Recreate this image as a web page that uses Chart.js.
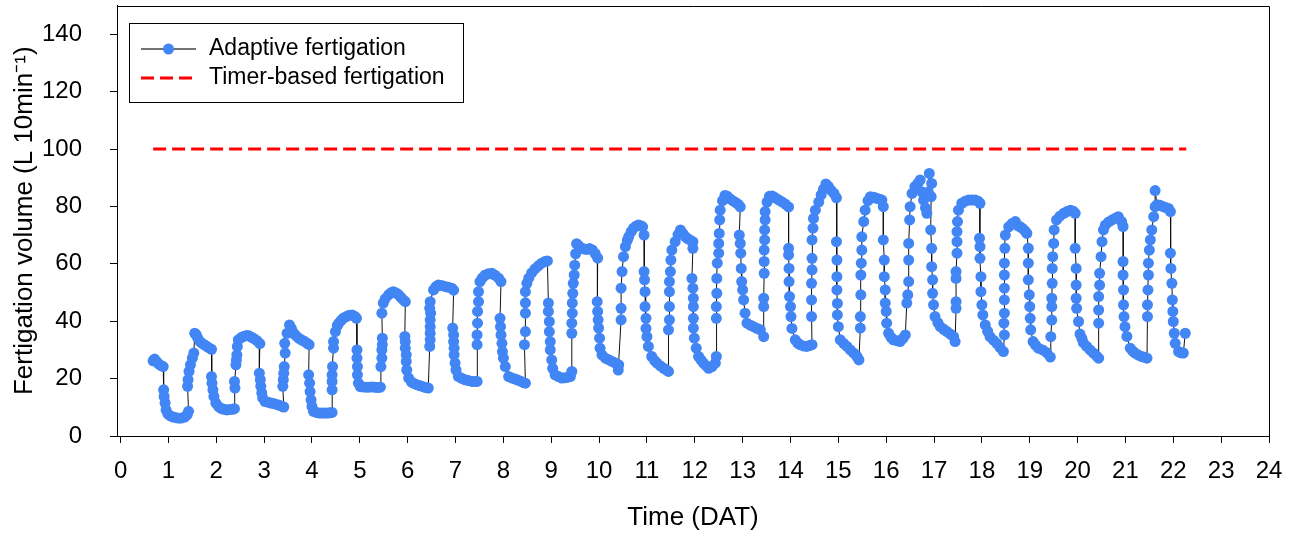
<!DOCTYPE HTML>
<html>

<head>
  <meta charset="utf-8">
  <title>Fertigation volume</title>
  <script src="https://cdn.jsdelivr.net/npm/chart.js"></script>
  <style>
    html, body { margin: 0; padding: 0; background: #fff; }
    .chart-container { position: relative; width: 1298px; height: 533px; }
  </style>
</head>

<body>
  <div class="chart-container">
    <canvas id="fertChart"></canvas>
  </div>

  <script type="text/javascript">
    // time in days after transplanting, one line per day cycle (up - plateau - down - night)
    var timeDAT = [
      0.68, 0.71, 0.75, 0.79, 0.84, 0.89, 0.90, 0.91, 0.93, 0.95, 0.99, 1.04, 1.10, 1.16, 1.22, 1.28, 1.34, 1.39, 1.42,
      1.40, 1.41, 1.43, 1.46, 1.50, 1.53, 1.55, 1.58, 1.61, 1.66, 1.71, 1.77, 1.83, 1.90, 1.90, 1.91, 1.93, 1.95, 1.99, 2.05, 2.10, 2.16, 2.22, 2.28, 2.34, 2.38,
      2.39, 2.38, 2.41, 2.42, 2.43, 2.44, 2.46, 2.52, 2.57, 2.63, 2.68, 2.74, 2.79, 2.85, 2.91, 2.90, 2.92, 2.93, 2.95, 2.97, 3.02, 3.08, 3.14, 3.20, 3.26, 3.32, 3.38, 3.41,
      3.39, 3.40, 3.41, 3.42, 3.44, 3.43, 3.48, 3.53, 3.57, 3.62, 3.67, 3.72, 3.78, 3.84, 3.90, 3.94, 3.93, 3.95, 3.96, 3.98, 4.00, 4.03, 4.09, 4.15, 4.21, 4.27, 4.33, 4.38, 4.42,
      4.42, 4.42, 4.42, 4.43, 4.45, 4.45, 4.49, 4.53, 4.56, 4.61, 4.66, 4.72, 4.78, 4.84, 4.90, 4.93, 4.94, 4.94, 4.95, 4.95, 4.97, 5.01, 5.07, 5.13, 5.19, 5.25, 5.31, 5.37, 5.43,
      5.44, 5.46, 5.46, 5.47, 5.47, 5.46, 5.49, 5.53, 5.60, 5.65, 5.70, 5.76, 5.81, 5.86, 5.91, 5.95, 5.94, 5.95, 5.95, 5.97, 5.97, 5.98, 6.02, 6.08, 6.12, 6.19, 6.26, 6.32, 6.38, 6.43,
      6.46, 6.47, 6.47, 6.47, 6.47, 6.48, 6.46, 6.47, 6.54, 6.59, 6.64, 6.71, 6.78, 6.85, 6.92, 6.96, 6.94, 6.96, 6.96, 6.97, 6.97, 6.99, 7.01, 7.06, 7.13, 7.20, 7.27, 7.34, 7.40, 7.45,
      7.45, 7.45, 7.46, 7.46, 7.48, 7.48, 7.51, 7.56, 7.62, 7.69, 7.76, 7.83, 7.90, 7.95, 7.93, 7.94, 7.95, 7.97, 7.98, 8.00, 8.04, 8.11, 8.18, 8.24, 8.30, 8.36, 8.42, 8.46,
      8.44, 8.46, 8.46, 8.46, 8.46, 8.49, 8.53, 8.59, 8.66, 8.73, 8.80, 8.87, 8.92, 8.94, 8.94, 8.96, 8.96, 8.98, 8.98, 9.01, 9.03, 9.08, 9.15, 9.22, 9.29, 9.35, 9.40, 9.43,
      9.43, 9.43, 9.44, 9.44, 9.45, 9.46, 9.48, 9.49, 9.51, 9.53, 9.57, 9.62, 9.68, 9.74, 9.80, 9.86, 9.92, 9.97, 9.96, 9.97, 9.98, 9.99, 10.01, 10.02, 10.06, 10.13, 10.20, 10.27, 10.34, 10.41, 10.40,
      10.46, 10.46, 10.46, 10.48, 10.51, 10.55, 10.59, 10.62, 10.67, 10.72, 10.77, 10.82, 10.87, 10.91, 10.94, 10.94, 10.95, 10.96, 10.96, 10.98, 10.98, 11.00, 11.03, 11.10, 11.16, 11.21, 11.28, 11.35, 11.41, 11.45,
      11.45, 11.47, 11.47, 11.47, 11.47, 11.49, 11.50, 11.52, 11.59, 11.65, 11.70, 11.75, 11.80, 11.85, 11.90, 11.96, 11.96, 11.94, 11.96, 11.97, 11.97, 11.97, 11.97, 11.99, 12.03, 12.08, 12.13, 12.18, 12.24, 12.29, 12.36, 12.43, 12.45,
      12.45, 12.45, 12.46, 12.46, 12.47, 12.50, 12.50, 12.51, 12.52, 12.53, 12.58, 12.63, 12.68, 12.74, 12.80, 12.86, 12.91, 12.95, 12.93, 12.95, 12.96, 12.97, 12.98, 13.00, 13.02, 13.05, 13.09, 13.16, 13.23, 13.30, 13.37, 13.44,
      13.44, 13.44, 13.45, 13.45, 13.45, 13.46, 13.46, 13.47, 13.47, 13.51, 13.56, 13.62, 13.68, 13.75, 13.82, 13.89, 13.96, 13.96, 13.96, 13.97, 13.97, 13.98, 14.00, 14.01, 14.03, 14.10, 14.15, 14.20, 14.27, 14.34, 14.40, 14.45,
      14.44, 14.44, 14.44, 14.45, 14.45, 14.45, 14.47, 14.48, 14.52, 14.59, 14.64, 14.69, 14.74, 14.79, 14.85, 14.91, 14.96, 14.96, 14.97, 14.97, 14.97, 14.98, 14.98, 15.00, 15.04, 15.11, 15.18, 15.25, 15.32, 15.39, 15.43,
      15.46, 15.46, 15.47, 15.47, 15.48, 15.49, 15.49, 15.53, 15.56, 15.62, 15.67, 15.74, 15.80, 15.86, 15.91, 15.94, 15.94, 15.96, 15.96, 15.98, 15.98, 16.00, 16.01, 16.05, 16.10, 16.15, 16.22, 16.29, 16.35, 16.40,
      16.43, 16.45, 16.47, 16.47, 16.47, 16.49, 16.50, 16.54, 16.60, 16.66, 16.71, 16.75, 16.78, 16.82, 16.85, 16.88, 16.90, 16.95, 16.94, 16.93, 16.95, 16.95, 16.97, 16.97, 16.99, 17.02, 17.08, 17.13, 17.20, 17.27, 17.34, 17.41, 17.44,
      17.46, 17.46, 17.46, 17.46, 17.48, 17.48, 17.48, 17.49, 17.51, 17.58, 17.65, 17.72, 17.79, 17.86, 17.92, 17.96, 17.95, 17.96, 17.96, 17.98, 17.98, 18.00, 18.02, 18.07, 18.12, 18.17, 18.24, 18.31, 18.38, 18.45,
      18.47, 18.46, 18.47, 18.47, 18.47, 18.47, 18.47, 18.48, 18.49, 18.56, 18.63, 18.70, 18.73, 18.79, 18.84, 18.90, 18.94, 18.97, 18.97, 18.97, 18.99, 19.00, 19.01, 19.02, 19.07, 19.12, 19.18, 19.27, 19.36, 19.43,
      19.44, 19.46, 19.46, 19.46, 19.47, 19.47, 19.48, 19.50, 19.51, 19.56, 19.63, 19.71, 19.78, 19.85, 19.91, 19.95, 19.95, 19.97, 19.97, 19.97, 19.98, 20.02, 20.05, 20.09, 20.12, 20.19, 20.26, 20.33, 20.40, 20.44,
      20.44, 20.44, 20.44, 20.46, 20.46, 20.49, 20.51, 20.54, 20.58, 20.65, 20.72, 20.79, 20.85, 20.92, 20.95, 20.95, 20.95, 20.96, 20.96, 20.97, 20.99, 21.03, 21.10, 21.15, 21.20, 21.27, 21.34, 21.40, 21.45,
      21.46, 21.46, 21.47, 21.48, 21.48, 21.50, 21.52, 21.55, 21.59, 21.62, 21.62, 21.66, 21.72, 21.78, 21.84, 21.90, 21.94, 21.94, 21.95, 21.97, 21.98, 21.99, 22.00, 22.02, 22.04, 22.11, 22.16, 22.21, 22.25
    ];

    // adaptive fertigation volume, L 10min-1 (same order as timeDAT)
    var adaptiveVolume = [
      26.2, 26.8, 26.0, 25.2, 24.6, 24.2, 16.1, 13.8, 11.5, 9.1, 7.6, 7.0, 6.6, 6.4, 6.2, 6.3, 6.6, 7.4, 8.6,
      17.3, 19.6, 22.5, 24.8, 27.1, 28.9, 35.8, 35.3, 34.2, 32.9, 32.2, 31.6, 30.9, 30.2, 20.7, 18.4, 16.1, 13.8, 11.5, 10.2, 9.6, 9.3, 9.1, 9.2, 9.3, 9.5,
      16.7, 19.0, 24.8, 26.5, 28.3, 31.2, 33.5, 34.3, 34.7, 35.0, 34.9, 34.4, 33.9, 33.2, 32.2, 21.9, 19.6, 17.3, 15.0, 13.2, 12.0, 11.8, 11.5, 11.3, 11.0, 10.7, 10.3, 10.1,
      17.3, 19.6, 21.9, 24.2, 28.9, 32.3, 35.8, 38.7, 37.5, 35.8, 34.9, 34.1, 33.5, 33.0, 32.3, 31.8, 21.3, 18.4, 15.5, 12.6, 10.3, 8.6, 8.2, 8.0, 8.0, 8.0, 8.0, 8.1, 8.2,
      16.1, 19.0, 21.3, 24.2, 30.6, 32.9, 36.4, 38.5, 39.3, 40.3, 41.1, 41.6, 42.1, 42.2, 41.6, 41.0, 30.0, 27.1, 24.2, 21.3, 18.4, 17.2, 17.1, 17.0, 17.0, 17.1, 17.0, 16.9, 17.0,
      24.2, 27.1, 30.0, 31.8, 34.1, 42.8, 46.3, 47.8, 49.2, 49.9, 50.3, 49.8, 49.2, 48.3, 47.4, 46.8, 34.7, 32.9, 30.6, 28.3, 26.0, 23.0, 20.2, 18.8, 18.4, 17.9, 17.5, 17.2, 16.9, 16.7,
      31.2, 33.5, 35.8, 38.1, 40.5, 42.8, 44.5, 46.8, 50.9, 52.0, 52.6, 52.4, 52.1, 51.8, 51.5, 50.8, 37.6, 35.2, 32.9, 30.6, 28.3, 25.4, 23.0, 20.7, 20.1, 19.6, 19.3, 19.0, 19.0, 19.0,
      31.8, 35.2, 39.3, 43.4, 46.8, 50.3, 53.8, 55.1, 56.1, 56.5, 56.7, 56.0, 55.0, 53.8, 41.0, 38.1, 35.2, 32.3, 29.4, 27.1, 24.2, 20.7, 20.2, 19.9, 19.5, 19.1, 18.6, 18.4,
      31.8, 36.4, 42.8, 46.4, 50.3, 53.2, 55.0, 56.8, 58.2, 59.3, 60.2, 60.8, 61.0, 46.3, 43.4, 39.9, 36.4, 32.9, 30.0, 26.5, 23.6, 21.3, 20.7, 20.2, 20.3, 20.5, 20.7, 22.5,
      35.8, 39.3, 42.8, 46.3, 49.7, 53.2, 56.1, 59.5, 63.5, 67.0, 66.3, 65.6, 65.2, 65.0, 65.3, 64.8, 63.5, 62.0, 46.8, 43.4, 40.5, 37.6, 34.1, 30.6, 28.3, 27.1, 26.6, 26.0, 25.4, 24.8, 23.0,
      40.5, 44.5, 51.5, 57.3, 62.5, 66.0, 68.2, 69.5, 71.2, 72.4, 73.1, 73.5, 73.3, 72.9, 70.0, 57.3, 54.4, 50.3, 45.1, 41.0, 37.5, 34.6, 31.2, 27.7, 26.3, 25.4, 24.4, 23.6, 23.0, 22.5,
      37.0, 40.5, 45.1, 50.3, 53.8, 57.3, 61.3, 64.8, 67.7, 70.2, 71.8, 70.6, 69.5, 68.8, 68.3, 67.7, 65.4, 54.9, 51.5, 48.0, 45.1, 41.0, 37.6, 34.1, 30.6, 27.7, 26.5, 25.4, 24.4, 23.6, 24.2, 25.4, 27.7,
      41.0, 45.1, 49.7, 54.9, 60.2, 63.7, 67.1, 70.6, 75.3, 78.7, 82.0, 83.8, 83.5, 82.6, 81.9, 81.3, 80.7, 79.8, 70.0, 67.1, 63.7, 58.4, 53.8, 50.9, 47.4, 42.8, 39.3, 38.6, 38.1, 37.5, 37.0, 34.6,
      45.1, 48.0, 56.7, 60.8, 64.8, 68.3, 71.8, 75.3, 78.2, 81.5, 83.5, 83.6, 83.0, 82.3, 81.6, 80.8, 79.8, 65.4, 63.1, 58.4, 53.8, 48.6, 45.1, 41.6, 37.5, 33.5, 32.4, 31.8, 31.4, 31.2, 31.5, 31.8,
      41.6, 47.4, 53.2, 57.9, 61.9, 68.3, 72.4, 75.8, 78.7, 81.5, 84.0, 86.0, 87.8, 87.0, 85.6, 84.5, 83.0, 67.7, 61.3, 55.5, 50.9, 46.2, 42.2, 38.1, 33.5, 32.3, 31.2, 30.0, 28.9, 27.7, 26.5,
      37.6, 41.6, 49.2, 56.1, 60.2, 64.8, 69.4, 74.7, 78.7, 82.0, 83.4, 83.2, 82.8, 82.5, 82.2, 79.9, 68.3, 61.3, 55.5, 50.9, 46.3, 43.4, 39.3, 35.8, 34.4, 33.5, 33.2, 32.9, 34.0, 35.2,
      46.3, 49.2, 53.8, 61.3, 67.1, 75.3, 79.9, 84.5, 86.9, 88.0, 89.2, 85.0, 82.2, 79.5, 77.6, 85.0, 91.5, 88.0, 83.4, 71.8, 65.4, 59.0, 54.4, 49.7, 45.7, 41.6, 39.5, 38.1, 37.2, 36.4, 35.5, 34.6, 32.9,
      44.5, 46.8, 54.9, 57.3, 63.7, 67.7, 71.2, 74.7, 78.7, 81.1, 81.8, 82.2, 82.2, 82.2, 81.8, 81.1, 68.9, 66.0, 61.9, 55.5, 50.3, 45.7, 42.2, 38.7, 36.5, 34.6, 33.4, 32.3, 30.8, 29.4,
      35.2, 39.3, 42.8, 47.4, 51.5, 56.1, 60.2, 65.4, 70.0, 72.9, 74.0, 74.7, 73.5, 73.0, 72.4, 71.5, 70.6, 65.4, 60.2, 54.4, 49.2, 45.1, 41.0, 37.0, 32.9, 31.7, 30.6, 30.0, 29.0, 27.5,
      34.6, 40.4, 45.1, 48.0, 53.2, 58.4, 62.5, 67.1, 71.8, 75.3, 76.6, 77.6, 78.2, 78.7, 78.3, 77.6, 65.4, 58.4, 52.6, 48.0, 44.5, 39.9, 35.5, 34.0, 32.5, 31.2, 30.0, 28.9, 27.8, 27.1,
      39.3, 43.9, 48.6, 52.6, 56.7, 62.5, 67.7, 71.8, 73.5, 74.6, 75.3, 75.9, 76.4, 74.7, 73.0, 60.8, 56.1, 50.9, 45.7, 41.6, 38.1, 34.7, 30.6, 29.6, 28.9, 28.2, 27.7, 27.4, 27.1,
      41.6, 45.7, 50.9, 56.1, 60.2, 64.8, 68.3, 71.8, 76.4, 79.9, 85.5, 80.6, 80.4, 80.0, 79.6, 79.3, 78.2, 63.7, 58.4, 53.2, 47.4, 43.4, 39.9, 35.8, 32.3, 29.4, 29.0, 28.9, 35.8
    ];

    // timer-based fertigation: constant volume over the run
    var timerVolume = 100;
    var timerStart = 0.68;
    var timerEnd = 22.27;

    var xTicks = [0, 1, 2, 3, 4, 5, 6, 7, 8, 9, 10, 11, 12, 13, 14, 15, 16, 17, 18, 19, 20, 21, 22, 23, 24];
    var yTicks = [0, 20, 40, 60, 80, 100, 120, 140];

    var xTitle = 'Time (DAT)';
    var yTitle = 'Fertigation volume (L 10min\u207B\u00B9)';
    var legendLabels = ['Adaptive fertigation', 'Timer-based fertigation'];

    var fontFam = '"Liberation Sans", Arial, Helvetica, sans-serif';
    var blue = '#4285f4';

    if (timeDAT.length != adaptiveVolume.length) {
      console.log('length mismatch', timeDAT.length, adaptiveVolume.length);
    }

    var adaptivePoints = timeDAT.map(function (t, i) { return { x: t, y: adaptiveVolume[i] }; });
    var timerPoints = [{ x: timerStart, y: timerVolume }, { x: timerEnd, y: timerVolume }];

    // top and right edges of the plot frame + boxed legend
    var framePlugin = {
      id: 'frame',
      afterDraw: function (chart) {
        var c = chart.ctx;
        var a = chart.chartArea;
        c.save();
        c.strokeStyle = '#000';
        c.lineWidth = 1;
        c.beginPath();
        c.moveTo(a.left, Math.round(a.top) + 0.5);
        c.lineTo(a.right + 0.5, Math.round(a.top) + 0.5);
        c.lineTo(a.right + 0.5, a.bottom);
        c.stroke();

        // legend box
        c.strokeRect(129.5, 23.5, 334, 79);
        c.font = '23px ' + fontFam;
        c.fillStyle = '#000';
        c.textBaseline = 'middle';
        c.textAlign = 'left';

        c.strokeStyle = '#444';
        c.lineWidth = 1.5;
        c.beginPath();
        c.moveTo(141, 49);
        c.lineTo(196, 49);
        c.stroke();
        c.fillStyle = blue;
        c.beginPath();
        c.arc(168.5, 49, 5.5, 0, Math.PI * 2);
        c.fill();
        c.fillStyle = '#000';
        c.fillText(legendLabels[0], 209, 49);

        c.strokeStyle = '#ff0000';
        c.lineWidth = 3;
        c.setLineDash([13, 6]);
        c.beginPath();
        c.moveTo(141, 78);
        c.lineTo(196, 78);
        c.stroke();
        c.setLineDash([]);
        c.fillText(legendLabels[1], 209, 78);
        c.restore();
      }
    };

    var ctx = document.getElementById('fertChart');
    var fertChart = new Chart(ctx, {
      type: 'line',
      plugins: [framePlugin],
      data: {
        datasets: [
          {
            label: legendLabels[0],
            data: adaptivePoints,
            borderColor: '#111',
            borderWidth: 1,
            pointRadius: 5.5,
            pointBorderWidth: 0,
            pointBackgroundColor: blue,
            pointHoverRadius: 5.5,
            tension: 0,
          },
          {
            label: legendLabels[1],
            data: timerPoints,
            borderColor: '#ff0000',
            borderWidth: 3,
            borderDash: [13, 6],
            pointRadius: 0,
            tension: 0,
          },
        ],
      },
      options: {
        responsive: true,
        maintainAspectRatio: false,
        animation: false,
        devicePixelRatio: 1,
        layout: { padding: { left: 0, right: 29, top: 5, bottom: 0 } },
        plugins: {
          legend: { display: false },
          tooltip: { enabled: false },
        },
        scales: {
          x: {
            type: 'linear',
            min: -0.075,
            max: 24,
            afterBuildTicks: function (s) { s.ticks = xTicks.map(function (v) { return { value: v }; }); },
            afterFit: function (s) { s.height = 97; s.paddingLeft = 0; s.paddingRight = 0; },
            grid: { drawOnChartArea: false, drawTicks: true, tickLength: 7, color: '#000', lineWidth: 1 },
            border: { display: true, color: '#000', width: 1 },
            ticks: { color: '#000', padding: 14, maxRotation: 0, autoSkip: false, font: { size: 24, family: fontFam } },
            title: { display: true, text: xTitle, color: '#000', padding: { top: 0, bottom: 0 }, font: { size: 26, family: fontFam } },
          },
          y: {
            min: 0,
            max: 150,
            afterBuildTicks: function (s) { s.ticks = yTicks.map(function (v) { return { value: v }; }); },
            afterFit: function (s) { s.width = 117; s.paddingTop = 0; s.paddingBottom = 0; },
            grid: { drawOnChartArea: false, drawTicks: true, tickLength: 7, color: '#000', lineWidth: 1 },
            border: { display: true, color: '#000', width: 1 },
            ticks: { color: '#000', padding: 28, font: { size: 24, family: fontFam } },
            title: { display: true, text: yTitle, color: '#000', padding: { top: 9, bottom: 0 }, font: { size: 26, family: fontFam } },
          },
        },
      },
    });
  </script>
</body>

</html>
